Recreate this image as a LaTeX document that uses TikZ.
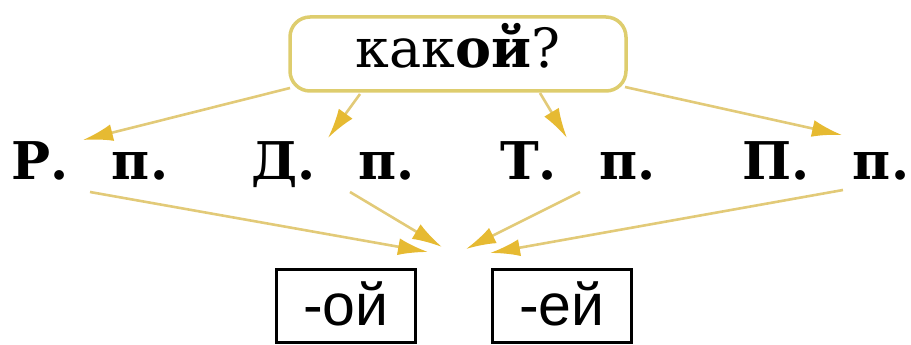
\documentclass[tikz,border=0pt]{standalone}
\usepackage{fontspec}
\setmainfont{DejaVu Serif}
\newfontfamily\sansf{Liberation Sans}
\usetikzlibrary{arrows.meta,calc}
\definecolor{arrowgold}{RGB}{230,186,50}
\definecolor{linegold}{RGB}{226,202,120}
\definecolor{boxborder}{RGB}{222,205,110}
\begin{document}
\begin{tikzpicture}[x=1pt,y=-1pt,
  topbox/.style={draw=boxborder, line width=3.5pt, rounded corners=20pt, fill=white,
    minimum width=336pt, minimum height=74pt, inner sep=0pt,
    text height=28pt, text depth=0pt, font=\fontsize{54}{54}\selectfont},
  caselabel/.style={anchor=base, inner sep=0pt, font=\fontsize{52}{52}\selectfont\bfseries},
  endbox/.style={draw=black, line width=3.5pt, minimum width=139pt, minimum height=73pt,
    inner sep=0pt, text height=38pt, text depth=0pt, font=\sansf\fontsize{59}{59}\selectfont},
  conn/.style={draw=linegold, line width=2.6pt,
    -{Latex[length=30pt,width=17pt,color=arrowgold]}}
]
\useasboundingbox (0,0) rectangle (911,345);
\node[topbox] (q) at (458,54) {как\textbf{ой}?};
\node[caselabel] (rp) at (90,179) {Р.\hspace{43pt}п.};
\node[caselabel] (dp) at (333,179) {Д.\hspace{43pt}п.};
\node[caselabel] (tp) at (578,179) {Т.\hspace{43pt}п.};
\node[caselabel] (pp) at (826,179) {П.\hspace{43pt}п.};
\node[endbox] (oj) at (346,306) {-ой};
\node[endbox] (ej) at (562,306) {-ей};
% arrow end points
\coordinate (s1) at (290,88);
\coordinate (s2) at (360,94);
\coordinate (s3) at (540,93);
\coordinate (s4) at (625,87);
\coordinate (e1) at (83,140);
\coordinate (e2) at (328,138);
\coordinate (e3) at (567,138);
\coordinate (e4) at (842,135);
\coordinate (b1) at (90,192);
\coordinate (b2) at (350,192);
\coordinate (b3) at (580,192);
\coordinate (b4) at (843,190);
\coordinate (m1) at (428,252);
\coordinate (m2) at (442,247);
\coordinate (m3) at (466,249);
\coordinate (m4) at (490,253);
\draw[conn] (s1) -- (e1);
\draw[conn] (s2) -- (e2);
\draw[conn] (s3) -- (e3);
\draw[conn] (s4) -- (e4);
\draw[conn] (b1) -- (m1);
\draw[conn] (b2) -- (m2);
\draw[conn] (b3) -- (m3);
\draw[conn] (b4) -- (m4);
\end{tikzpicture}
\end{document}
